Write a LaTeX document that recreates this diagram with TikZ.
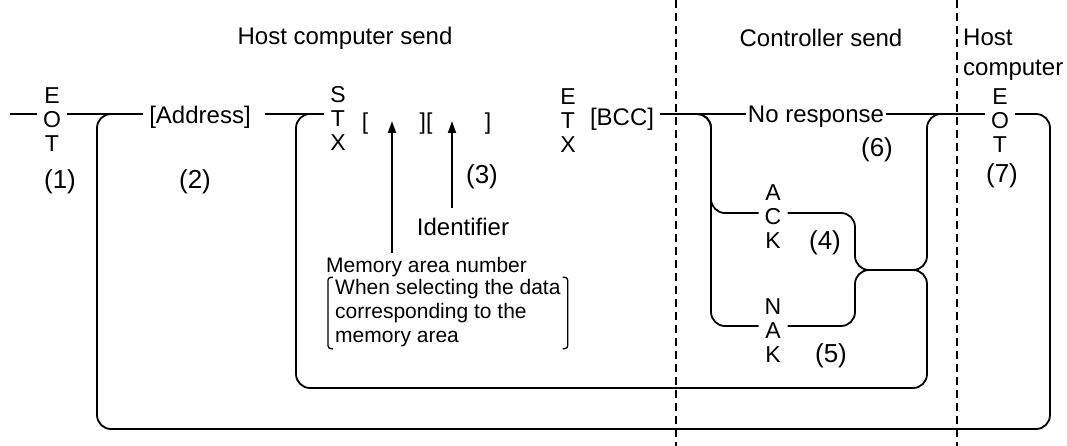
\documentclass[tikz,border=0pt]{standalone}
\usepackage{fontspec}
\setmainfont{Liberation Sans}
\usetikzlibrary{positioning, arrows.meta, calc}

\begin{document}
\begin{tikzpicture}[
        x=1pt, y=-1pt,
        lbl/.style={inner sep=0pt, font=\fontsize{24}{27}\selectfont},
        num/.style={inner sep=0pt, font=\fontsize{26}{28}\selectfont},
        txt/.style={inner xsep=6pt, inner ysep=0pt, font=\fontsize{24}{27}\selectfont},
        ctl/.style={inner xsep=6pt, inner ysep=0pt, align=center, font=\fontsize{23}{24}\selectfont},
        small/.style={inner sep=0pt, align=left, font=\fontsize{21}{24}\selectfont},
        wire/.style={line width=1.8pt, rounded corners=14pt},
        arr/.style={line width=1.8pt, -{Triangle[length=12pt, width=8pt]}},
        brk/.style={line width=1.3pt, rounded corners=3pt},
        divider/.style={line width=1.3pt, dash pattern=on 8pt off 5pt}
    ]

    \useasboundingbox (0,0) rectangle (1067,446);

    % Bereiche
    \draw[divider] (676,0) -- (676,446);
    \draw[divider] (957,0) -- (957,446);
    \node[lbl] (hsend) at (345,38) {Host computer send};
    \node[lbl] (csend) at (821,38) {Controller send};
    \node[lbl, anchor=north west, align=left, font=\fontsize{24}{30}\selectfont] (hcomp) at (963,29) {Host\\computer};

    % Knoten
    \coordinate (start) at (10,114);
    \node[ctl] (eot1) at (52,120) {E\\O\\T};
    \node[txt] (addr) at (200,117) {[Address]};
    \node[ctl] (stx) at (338,118) {S\\T\\X};
    \node[ctl] (br1) at (365,124) {[};
    \node[ctl] (br2) at (426,124) {][};
    \node[ctl] (br3) at (488,124) {]};
    \node[ctl] (etx) at (568,121) {E\\T\\X};
    \node[txt] (bcc) at (622,119) {[BCC]};
    \node[txt, inner xsep=2pt] (noresp) at (816,117) {No response};
    \node[ctl] (eot7) at (1000,121) {E\\O\\T};
    \node[ctl] (ack) at (773,217) {A\\C\\K};
    \node[ctl] (nak) at (773,331) {N\\A\\K};

    \node[num] (no1) at (60,182) {(1)};
    \node[num] (no2) at (195,182) {(2)};
    \node[num] (no3) at (482,177) {(3)};
    \node[num] (no4) at (825,243) {(4)};
    \node[num] (no5) at (831,356) {(5)};
    \node[num] (no6) at (877,150) {(6)};
    \node[num] (no7) at (1002,176) {(7)};

    \node[lbl] (ident) at (463,227) {Identifier};
    \node[small, anchor=west] (memlbl) at (326,267) {Memory area number};
    \node[small, anchor=west, inner xsep=7pt, minimum height=71pt] (memnote) at (328,313) {When selecting the data\\corresponding to the\\memory area};
    \draw[brk] ([xshift=5pt]memnote.north west) -- (memnote.north west) -- (memnote.south west) -- ([xshift=5pt]memnote.south west);
    \draw[brk] ([xshift=-5pt]memnote.north east) -- (memnote.north east) -- (memnote.south east) -- ([xshift=-5pt]memnote.south east);

    % Pfeile
    \coordinate (tip1) at (392,121);
    \coordinate (tip2) at (452,121);
    \draw[arr, shorten <=4pt] (memlbl.north -| tip1) -- (tip1);
    \draw[arr, shorten <=10pt] (ident.north -| tip2) -- (tip2);

    % Kanten
    \coordinate (oL) at (97,114);
    \coordinate (oR) at (1050,429);
    \coordinate (iL) at (296,114);
    \coordinate (iR) at (927,388);
    \coordinate (aL) at (711,114);
    \coordinate (mj) at (855,270);
    \coordinate (rT) at (927,114);

    \draw[wire] (start) -- (eot1.west |- start);
    \draw[wire] (eot1.east |- start) -- (addr.west |- start);
    \draw[wire, shorten <=8pt] (addr.east |- start) -- (stx.west |- start);
    \draw[wire] (bcc.east |- start) -- (noresp.west |- start);
    \draw[wire] (noresp.east |- start) -- (eot7.west |- start);

    \draw[wire] (eot7.east |- start) -| (oR) -| (oL) -- ++(18,0);
    \draw[wire] ([yshift=5pt]nak.east) -| (mj) -| (iR) -| (iL) -- ++(18,0);
    \draw[wire] ([yshift=4pt]ack.east) -| (mj) -| (rT) -- ++(18,0);
    \draw[wire] ([yshift=5pt]nak.west) -| (aL) -- ++(-16,0);
    \draw[wire] ([yshift=4pt]ack.west) -| (aL) -- ++(-16,0);

\end{tikzpicture}
\end{document}
